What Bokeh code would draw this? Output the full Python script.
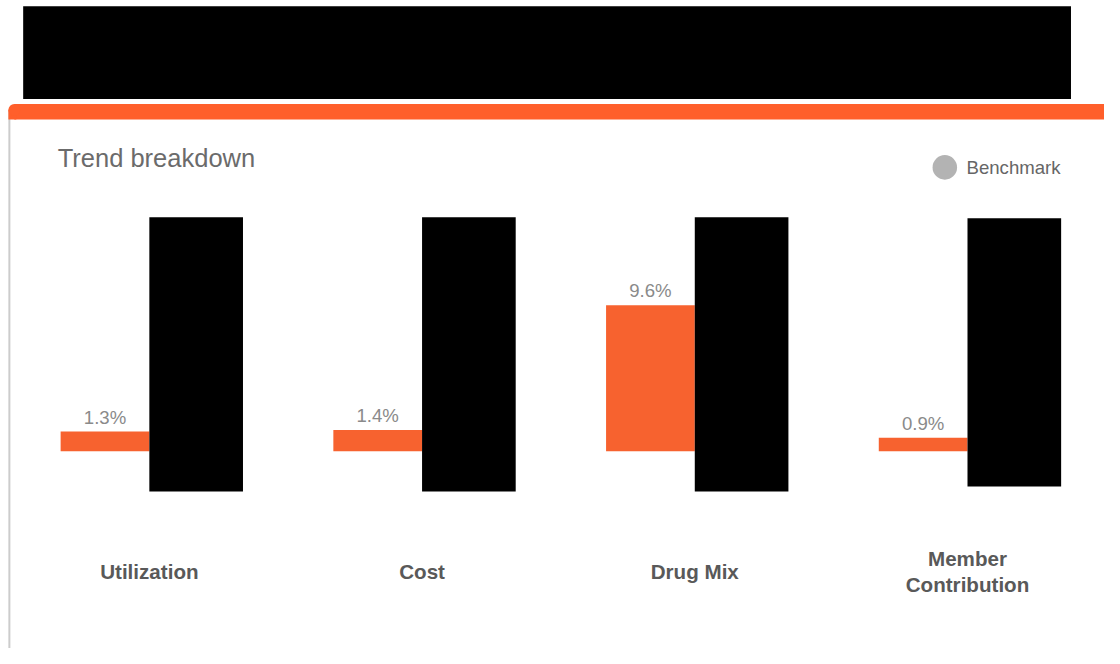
from bokeh.plotting import figure
from bokeh.models import Range1d
from bokeh.core.properties import value
from bokeh.embed import file_html
from bokeh.resources import INLINE

# ---- data ----
categories = ["Utilization", "Cost", "Drug Mix", "Member\nContribution"]
trend_values = [1.3, 1.4, 9.6, 0.9]
value_labels = ["1.3%", "1.4%", "9.6%", "0.9%"]
# benchmark bars are hidden behind redaction boxes (extent in % units)
redact_top = [15.38, 15.38, 15.38, 15.32]
redact_bottom = [-2.63, -2.63, -2.63, -2.31]
title_text = "Trend breakdown"
legend_label = "Benchmark"

W, H = 1104, 648
REF_W, REF_H = 1120, 664
SCALE = (W / REF_W + H / REF_H) / 2

PX_PER_CAT = 276.67   # reference pixels per category
PX_PER_PCT = 15.6     # reference pixels per percentage point
C0 = 151.0            # reference x of first category centre
B0 = 462.0            # reference y of zero baseline

def X(px):  # reference pixel -> data x
    return (px - C0) / PX_PER_CAT

def Y(py):  # reference pixel -> data y
    return (B0 - py) / PX_PER_PCT

def fs(px):
    return f"{px * SCALE:.1f}px"

p = figure(width=W, height=H, output_backend="svg", toolbar_location=None,
           x_range=Range1d(X(0), X(REF_W)), y_range=Range1d(Y(REF_H), Y(0)),
           x_axis_location=None, y_axis_location=None, title=None,
           min_border=0, min_border_left=0, min_border_right=0,
           min_border_top=0, min_border_bottom=0)
p.outline_line_color = None
p.xgrid.grid_line_color = None
p.ygrid.grid_line_color = None
p.background_fill_color = "white"
p.border_fill_color = "white"

# ---- page decorations ----
p.quad(left=[X(23)], right=[X(1086)], top=[Y(6)], bottom=[Y(101)],
       fill_color="black", line_color=None)
p.segment(x0=[X(9)], y0=[Y(112)], x1=[X(9)], y1=[Y(680)],
          line_color="#cccccc", line_width=2)
p.quad(left=[X(14)], right=[X(1130)], top=[Y(106)], bottom=[Y(122)],
       fill_color="#FF5F2B", line_color=None)
p.quad(left=[X(8)], right=[X(16)], top=[Y(112)], bottom=[Y(122)],
       fill_color="#FF5F2B", line_color=None)
p.scatter(x=[X(14)], y=[Y(112)], size=12 * SCALE, marker="circle",
          fill_color="#FF5F2B", line_color=None)

p.text(x=[X(58)], y=[Y(161)], text=[title_text],
       text_font=value("Liberation Sans"), text_font_size=fs(26),
       text_color="#6b6b6b", text_baseline="middle", text_align="left")

p.scatter(x=[X(958)], y=[Y(171)], size=25 * SCALE, marker="circle",
          fill_color="#b3b3b3", line_color=None)
p.text(x=[X(980)], y=[Y(171)], text=[legend_label],
       text_font=value("Liberation Sans"), text_font_size=fs(19),
       text_color="#666666", text_baseline="middle", text_align="left")

# ---- bars ----
idx = list(range(len(categories)))
bar_w = 90 / PX_PER_CAT
red_w = 95 / PX_PER_CAT
bar_x = [i - bar_w / 2 for i in idx]
red_x = [i + red_w / 2 for i in idx]

p.vbar(x=bar_x, width=bar_w, top=trend_values, bottom=0,
       fill_color="#F7622F", line_color=None)
p.vbar(x=red_x, width=red_w, top=redact_top, bottom=redact_bottom,
       fill_color="black", line_color=None)

gap = 4 / PX_PER_PCT
p.text(x=bar_x, y=[v + gap for v in trend_values], text=value_labels,
       text_font=value("Liberation Sans"), text_font_size=fs(19),
       text_color="#8a8a8a", text_align="center", text_baseline="bottom")

p.text(x=idx, y=[Y(585)] * len(idx), text=categories,
       text_font=value("Liberation Sans"), text_font_size=fs(21),
       text_font_style="bold", text_color="#595959",
       text_align="center", text_baseline="middle", text_line_height=1.15)

open("out.html", "w").write(file_html(p, INLINE))
